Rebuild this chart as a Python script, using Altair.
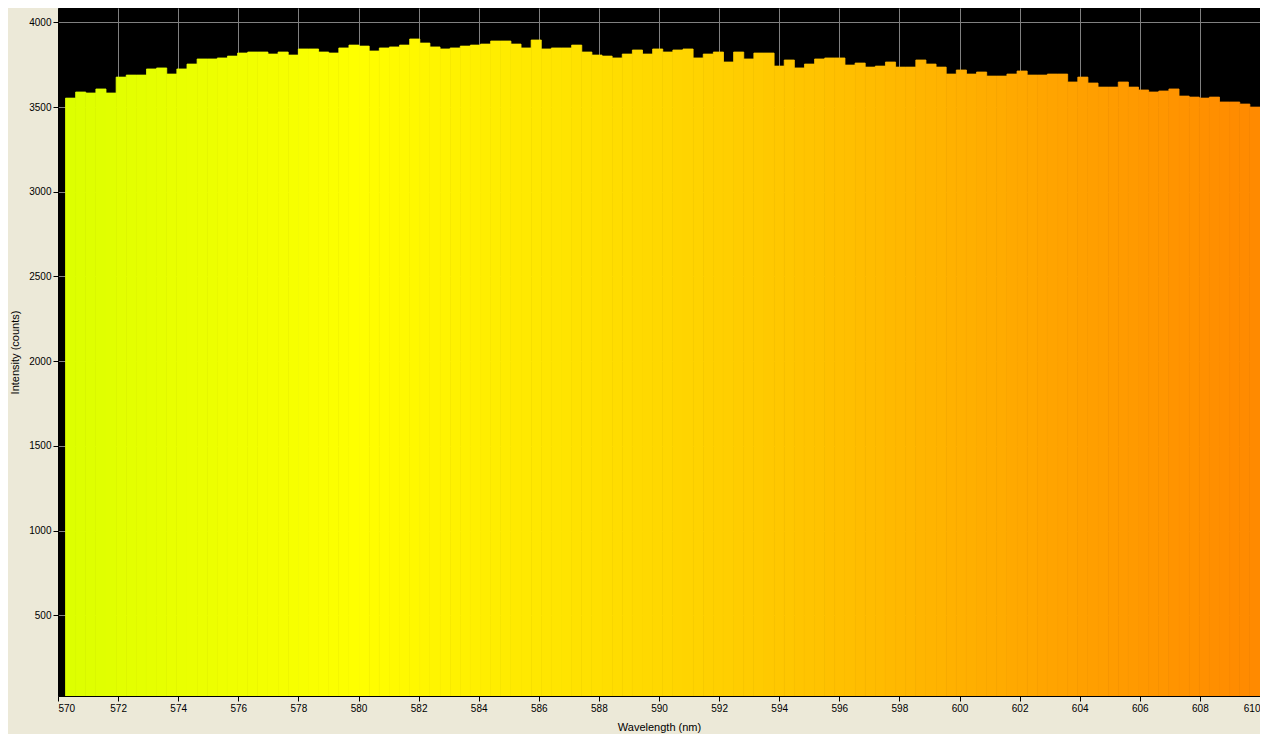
import altair as alt
import pandas as pd

# Spectrum bins (start / end wavelength of the binned data, nm)
WL_START = 570.25
WL_END = 610.0

# Intensity (counts) per bin
intensity = [
    3553, 3589, 3583, 3607, 3583, 3677, 3689, 3689, 3725, 3731,
    3695, 3725, 3754, 3784, 3784, 3790, 3801, 3819, 3825, 3825,
    3813, 3825, 3807, 3843, 3843, 3825, 3819, 3849, 3866, 3860,
    3831, 3849, 3855, 3866, 3902, 3878, 3855, 3843, 3849, 3860,
    3866, 3872, 3890, 3890, 3872, 3849, 3896, 3843, 3849, 3849,
    3866, 3825, 3807, 3801, 3790, 3813, 3837, 3813, 3843, 3825,
    3837, 3843, 3790, 3813, 3825, 3766, 3825, 3784, 3819, 3819,
    3742, 3778, 3731, 3754, 3784, 3790, 3790, 3748, 3760, 3736,
    3742, 3766, 3736, 3736, 3778, 3754, 3736, 3695, 3719, 3695,
    3707, 3683, 3683, 3695, 3713, 3689, 3689, 3695, 3695, 3648,
    3677, 3642, 3618, 3618, 3648, 3618, 3601, 3589, 3595, 3607,
    3565, 3559, 3553, 3559, 3530, 3530, 3518, 3500,
]

x_ticks = list(range(570, 611, 2))
y_ticks = [500, 1000, 1500, 2000, 2500, 3000, 3500, 4000]

# wavelength -> colour stops
color_wl = [570, 580, 610]
color_rgb = ["#DBFF00", "#FFFF00", "#FF8900"]

n = len(intensity)
step = (WL_END - WL_START) / n
wl0 = [WL_START + i * step for i in range(n)]
wl1 = [WL_START + (i + 1) * step for i in range(n)]
df = pd.DataFrame({
    "wl0": wl0,
    "wl1": wl1,
    "wl": [(a + b) / 2 for a, b in zip(wl0, wl1)],
    "counts": intensity,
})

col_scale = alt.Scale(domain=color_wl, range=color_rgb, interpolate="rgb")

chart = alt.Chart(df).mark_rect(clip=True, strokeWidth=0.8).encode(
    x=alt.X(
        "wl0:Q",
        scale=alt.Scale(domain=[570, 610], nice=False, zero=False),
        axis=alt.Axis(values=x_ticks, title="Wavelength (nm)", format="d"),
    ),
    x2="wl1:Q",
    y=alt.Y(
        "counts:Q",
        scale=alt.Scale(domain=[23.6, 4085], nice=False, zero=False),
        axis=alt.Axis(values=y_ticks, title="Intensity (counts)", format="d"),
    ),
    y2=alt.datum(0),
    color=alt.Color("wl:Q", scale=col_scale, legend=None),
    stroke=alt.Stroke("wl:Q", scale=col_scale, legend=None),
).properties(
    width=1202,
    height=688,
    autosize=alt.AutoSizeParams(type="none"),
    padding={"left": 50, "top": 0, "right": 0, "bottom": 38},
    background="#ECE9D8",
).configure_view(
    fill="black",
    stroke=None,
).configure_axis(
    labelFont="Liberation Sans",
    labelFontSize=10,
    labelColor="black",
    labelPadding=2,
    tickColor="black",
    tickSize=5,
    domainColor="black",
    gridColor="#808080",
    gridOpacity=1,
    gridWidth=1,
    titleFont="Liberation Sans",
    titleFontSize=11,
    titleFontWeight="normal",
    titleColor="black",
    titlePadding=8,
)

chart.save("out.html", embed_options={"renderer": "svg", "actions": False})
